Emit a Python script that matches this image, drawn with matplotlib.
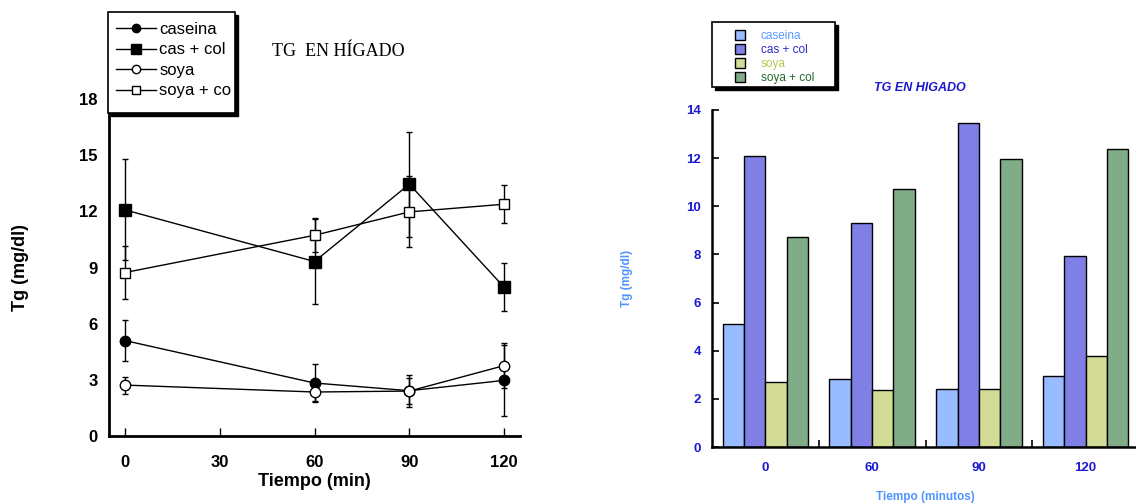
import numpy as np
import matplotlib
matplotlib.use('Agg')
import matplotlib.pyplot as plt
from matplotlib.lines import Line2D
from matplotlib.patches import Rectangle

plt.rcParams['font.family'] = ['Liberation Sans', 'DejaVu Sans']

# data
tiempos = [0, 60, 90, 120]
series = ['caseina', 'cas + col', 'soya', 'soya + col']
labels_izq = ['caseina', 'cas + col', 'soya', 'soya + co']  # last label is cut off in the original

caseina = [5.1, 2.83, 2.42, 2.97]
cas_col = [12.08, 9.32, 13.45, 7.94]
soya = [2.72, 2.35, 2.4, 3.76]
soya_col = [8.73, 10.72, 11.97, 12.38]

err_caseina = [1.1, 1.0, 0.85, 1.9]
err_cas_col = [2.7, 2.25, 2.8, 1.28]
err_soya = [0.45, 0.5, 0.7, 1.2]
err_soya_col = [1.43, 0.9, 1.9, 1.02]

yticks_izq = [0, 3, 6, 9, 12, 15, 18]
xticks_izq = [0, 30, 60, 90, 120]
yticks_der = [0, 2, 4, 6, 8, 10, 12, 14]

bar_colors = ['#99bbff', '#7f7fe6', '#d2dc96', '#80ac88']
text_colors = ['#5c98ff', '#2a2ac8', '#b4c850', '#1e6a2a']

W, H = 1136, 503
fig = plt.figure(figsize=(W / 100, H / 100), dpi=100)


def fbox(x0, y0, x1, y1):
    # legend frame with a black drop shadow, pixel coords from top-left
    sh = Rectangle((x0 / W + 3 / W, 1 - y1 / H - 3 / H), (x1 - x0) / W, (y1 - y0) / H,
                   transform=fig.transFigure, facecolor='black', edgecolor='black', zorder=10)
    fr = Rectangle((x0 / W, 1 - y1 / H), (x1 - x0) / W, (y1 - y0) / H,
                   transform=fig.transFigure, facecolor='white', edgecolor='black',
                   lw=1.2, zorder=11)
    fig.patches.extend([sh, fr])


# ---------- left: line chart with error bars ----------
ax1 = fig.add_axes([109 / W, 1 - 436 / H, (520 - 109) / W, (436 - 99) / H])
vals = [caseina, cas_col, soya, soya_col]
errs = [err_caseina, err_cas_col, err_soya, err_soya_col]
markers = ['o', 's', 'o', 's']
faces = ['black', 'black', 'white', 'white']
sizes = [7.5, 8.5, 7.5, 7.5]
for v, e, m, fc, ms in zip(vals, errs, markers, faces, sizes):
    ax1.errorbar(tiempos, v, yerr=e, color='black', lw=1, marker=m, ms=ms,
                 mfc=fc, mec='black', mew=1, capsize=2.5, elinewidth=1, zorder=3)

ax1.set_xlim(-5, 125)
ax1.set_ylim(0, 18)
ax1.set_xticks(xticks_izq)
ax1.set_yticks(yticks_izq)
ax1.spines['top'].set_visible(False)
ax1.spines['right'].set_visible(False)
ax1.spines['left'].set_linewidth(2)
ax1.spines['bottom'].set_linewidth(2)
ax1.tick_params(axis='x', direction='in', length=6, width=1, labelsize=12, pad=14)
ax1.tick_params(axis='y', direction='in', length=0, labelsize=12, pad=8)
for t in ax1.get_xticklabels() + ax1.get_yticklabels():
    t.set_fontweight('bold')
ax1.set_xlabel('Tiempo (min)', fontsize=13, fontweight='bold', labelpad=2)
ax1.set_ylabel('Tg (mg/dl)', fontsize=13, fontweight='bold', labelpad=36)

handles1 = [Line2D([], [], color='black', lw=1, marker=m, ms=ms - 1.5, mfc=fc, mec='black')
            for m, fc, ms in zip(markers, faces, sizes)]
fbox(108, 12, 235, 113)
leg1 = fig.legend(handles1, labels_izq, loc='upper left',
                  bbox_to_anchor=(116 / W, 1 - 22 / H), fontsize=12, frameon=False,
                  handlelength=2.4, handletextpad=0.2, labelspacing=0.33,
                  borderpad=0, borderaxespad=0)
leg1.set_zorder(12)

fig.text(272 / W, 1 - 52 / H, 'TG  EN HÍGADO', family='Liberation Serif',
         fontsize=13, va='center', ha='left')

# ---------- right: grouped bars ----------
ax2 = fig.add_axes([712 / W, 1 - 447 / H, (1139 - 712) / W, (447 - 110) / H])
x = np.arange(len(tiempos))
w = 0.2
bars = []
for i, v in enumerate(vals):
    b = ax2.bar(x + (i - 1.5) * w, v, w, color=bar_colors[i], edgecolor='black',
                linewidth=1, label=series[i], zorder=2)
    bars.append(b)

ax2.set_xlim(-0.5, 3.5)
ax2.set_ylim(0, 14)
ax2.set_yticks(yticks_der)
ax2.set_xticks(x)
ax2.set_xticklabels([str(t) for t in tiempos])
ax2.set_xticks([0.5, 1.5, 2.5], minor=True)
ax2.spines['top'].set_visible(False)
ax2.spines['right'].set_visible(False)
ax2.spines['left'].set_linewidth(1.8)
ax2.spines['bottom'].set_linewidth(1.8)
ax2.tick_params(axis='x', which='major', length=0, labelsize=9.5, labelcolor='#1a1ad0', pad=11)
ax2.tick_params(axis='x', which='minor', direction='in', length=5, width=1.2)
ax2.tick_params(axis='y', direction='in', length=5, width=1.2, labelsize=9.5,
                labelcolor='#1a1ad0', pad=8)
for t in ax2.get_xticklabels() + ax2.get_yticklabels():
    t.set_fontweight('bold')
ax2.set_xlabel('Tiempo (minutos)', fontsize=8.5, fontweight='bold', color='#4f94ff', labelpad=12)
ax2.set_ylabel('Tg (mg/dl)', fontsize=8.5, fontweight='bold', color='#4f94ff', labelpad=38)

fig.text(920 / W, 1 - 88 / H, 'TG EN HIGADO', fontsize=9, fontweight='bold',
         fontstyle='italic', color='#1a1acc', ha='center', va='center')

fbox(712, 22, 835, 87)
leg2 = fig.legend(bars, series, loc='upper left',
                  bbox_to_anchor=(735 / W, 1 - 30 / H), fontsize=8.5, frameon=False,
                  handlelength=0.85, handleheight=0.85, handletextpad=1.35,
                  labelspacing=0.17, borderpad=0, borderaxespad=0)
leg2.set_zorder(12)
for t, c in zip(leg2.get_texts(), text_colors):
    t.set_color(c)

fig.savefig('out.png', dpi=100)
